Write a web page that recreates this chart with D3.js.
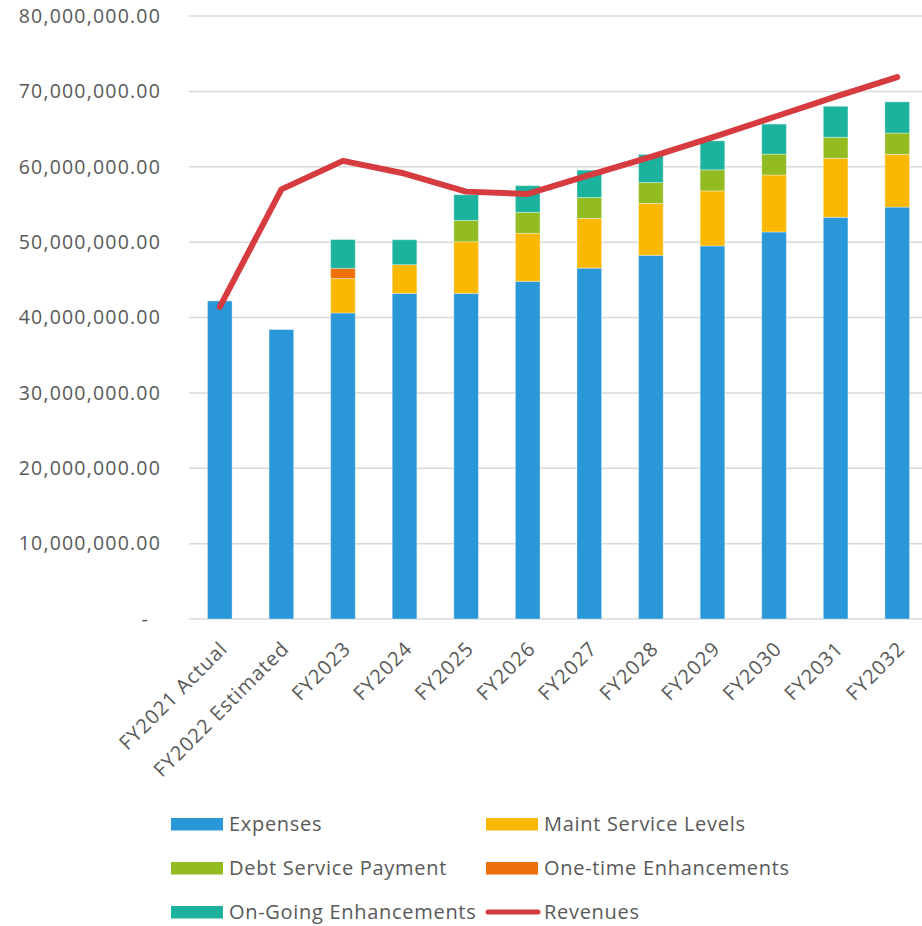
<!DOCTYPE html>
<html>
<head>
<meta charset="utf-8">
<script src="https://cdn.jsdelivr.net/npm/d3@7"></script>
<style>
  body { margin: 0; background: #fff; }
  svg text { font-family: "Open Sans", sans-serif; fill: #595959; }
</style>
</head>
<body>
<svg width="922" height="926"></svg>
<script>
// categories (fiscal years)
const years = ["FY2021 Actual", "FY2022 Estimated", "FY2023", "FY2024", "FY2025", "FY2026",
  "FY2027", "FY2028", "FY2029", "FY2030", "FY2031", "FY2032"];

// series values, in millions
const expenses = [42.2, 38.4, 40.6, 43.2, 43.2, 44.8, 46.55, 48.25, 49.5, 51.35, 53.3, 54.65];
const maintService = [0, 0, 4.57, 3.8, 6.85, 6.37, 6.59, 6.88, 7.3, 7.55, 7.82, 6.99];
const debtService = [0, 0, 0, 0, 2.83, 2.78, 2.78, 2.77, 2.79, 2.78, 2.79, 2.83];
const oneTime = [0, 0, 1.36, 0, 0, 0, 0, 0, 0, 0, 0, 0];
const onGoing = [0, 0, 3.81, 3.32, 3.41, 3.54, 3.63, 3.73, 3.85, 3.98, 4.11, 4.14];
const revenues = [41.4, 57.0, 60.78, 59.1, 56.7, 56.4, 58.9, 61.3, 63.9, 66.6, 69.3, 71.9];

// y axis ticks
const yTicks = [0, 10e6, 20e6, 30e6, 40e6, 50e6, 60e6, 70e6, 80e6];

const seriesNames = ["Expenses", "Maint Service Levels", "Debt Service Payment", "One-time Enhancements", "On-Going Enhancements"];
const seriesVals = [expenses, maintService, debtService, oneTime, onGoing];
const colors = ["#2997d8", "#fab800", "#93bb22", "#ed700a", "#1bb39d"];
const lineColor = "#d63b40";

/*----- table for d3.stack -----*/
const rows = years.map((yr, i) => {
  const r = { year: yr, revenue: revenues[i] * 1e6 };
  seriesNames.forEach((s, k) => (r[s] = seriesVals[k][i] * 1e6));
  return r;
});

const svg = d3.select("svg");
const plot = { left: 189, right: 928, top: 16, bottom: 619 };

const x = d3.scaleBand().domain(years).range([plot.left, plot.right]).paddingInner(0.6).paddingOuter(0.3);
const y = d3.scaleLinear().domain([0, 80e6]).range([plot.bottom, plot.top]);

// gridlines
svg.append("g")
  .selectAll("line")
  .data(yTicks)
  .join("line")
  .attr("x1", plot.left)
  .attr("x2", 922)
  .attr("y1", (d) => y(d))
  .attr("y2", (d) => y(d))
  .attr("stroke", "#d9d9d9")
  .attr("stroke-width", 1.5);

// y axis labels
const yAxis = d3.axisLeft(y)
  .tickValues(yTicks)
  .tickSize(0)
  .tickPadding(28)
  .tickFormat((d) => (d === 0 ? "-" : d3.format(",.2f")(d)));
const gy = svg.append("g").attr("transform", "translate(" + plot.left + ",0)").call(yAxis);
gy.select(".domain").remove();
gy.selectAll("text")
  .style("font-size", "19.5px")
  .style("letter-spacing", "1.2px")
  .attr("fill", "#595959")
  .attr("dx", (d) => (d === 0 ? -12 : 0));

// stacked bars
const stack = d3.stack().keys(seriesNames)(rows);
svg.append("g")
  .selectAll("g")
  .data(stack)
  .join("g")
  .attr("fill", (d, i) => colors[i])
  .selectAll("rect")
  .data((d) => d.filter((p) => p[1] - p[0] > 0))
  .join("rect")
  .attr("x", (d) => x(d.data.year))
  .attr("width", x.bandwidth())
  .attr("y", (d) => y(d[1]))
  .attr("height", (d) => y(d[0]) - y(d[1]))
  .attr("stroke", "#ffffff")
  .attr("stroke-opacity", 0.35)
  .attr("stroke-width", 1);

// revenue line
const line = d3.line()
  .x((d) => x(d.year) + x.bandwidth() / 2)
  .y((d) => y(d.revenue));
svg.append("path")
  .datum(rows)
  .attr("fill", "none")
  .attr("stroke", lineColor)
  .attr("stroke-width", 6)
  .attr("stroke-linecap", "round")
  .attr("stroke-linejoin", "round")
  .attr("d", line);

// x labels, rotated
svg.append("g")
  .selectAll("text")
  .data(years)
  .join("text")
  .attr("transform", (d) => "translate(" + (x(d) + x.bandwidth() / 2 + 9) + ",650) rotate(-45)")
  .attr("text-anchor", "end")
  .style("font-size", "20px")
  .style("letter-spacing", "1px")
  .text((d) => d);

/*----- legend -----*/
const legendItems = [
  { name: "Expenses", color: colors[0], type: "rect", col: 0, row: 0 },
  { name: "Maint Service Levels", color: colors[1], type: "rect", col: 1, row: 0 },
  { name: "Debt Service Payment", color: colors[2], type: "rect", col: 0, row: 1 },
  { name: "One-time Enhancements", color: colors[3], type: "rect", col: 1, row: 1 },
  { name: "On-Going Enhancements", color: colors[4], type: "rect", col: 0, row: 2 },
  { name: "Revenues", color: lineColor, type: "line", col: 1, row: 2 },
];
const colX = [171, 486];
const rowY = [824, 868, 912];

const lg = svg.append("g")
  .selectAll("g")
  .data(legendItems)
  .join("g")
  .attr("transform", (d) => "translate(" + colX[d.col] + "," + rowY[d.row] + ")");

lg.filter((d) => d.type === "rect")
  .append("rect")
  .attr("x", 0)
  .attr("y", -6)
  .attr("width", 52)
  .attr("height", 12.5)
  .attr("fill", (d) => d.color);

lg.filter((d) => d.type === "line")
  .append("line")
  .attr("x1", 2)
  .attr("x2", 52)
  .attr("y1", 0)
  .attr("y2", 0)
  .attr("stroke", (d) => d.color)
  .attr("stroke-width", 5)
  .attr("stroke-linecap", "round");

lg.append("text")
  .attr("x", 58)
  .attr("y", 0)
  .attr("dy", "0.35em")
  .style("font-size", "20px")
  .style("letter-spacing", "0.7px")
  .text((d) => d.name);
</script>
</body>
</html>
